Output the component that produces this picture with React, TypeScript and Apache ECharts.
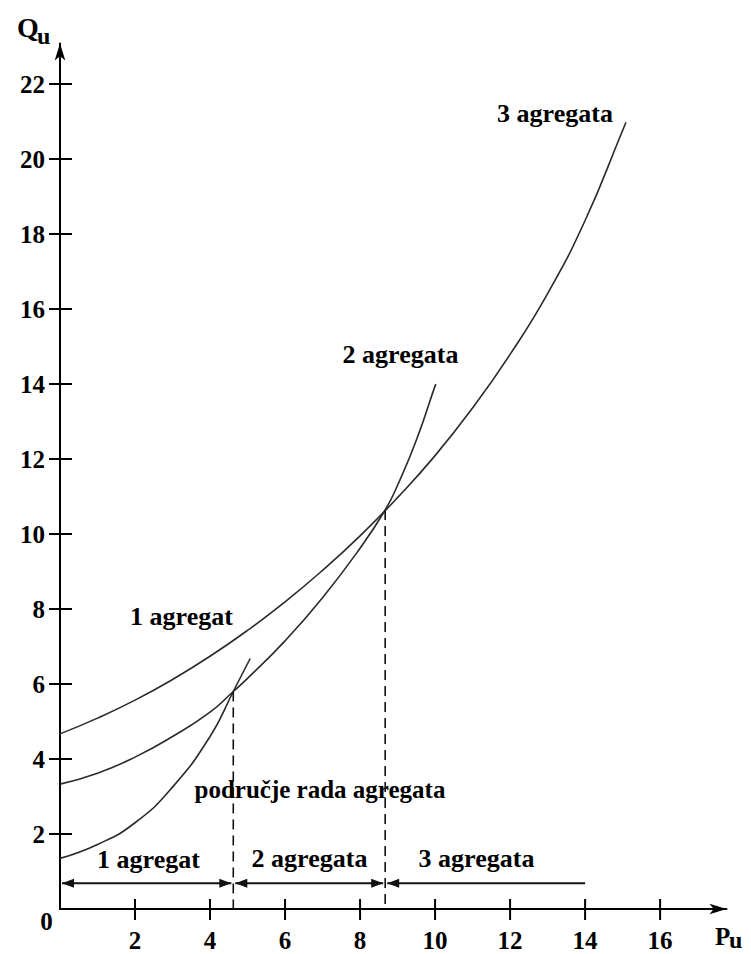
import React, { useEffect, useRef } from "react";
import * as echarts from "echarts";

// ---- data ----
const xTickValues = [2, 4, 6, 8, 10, 12, 14, 16];
const yTickValues = [2, 4, 6, 8, 10, 12, 14, 16, 18, 20, 22];

// curve ending at "3 agregata"
const curve3P = [0, 1, 2, 3, 4, 5, 6, 7, 8, 9, 10, 11, 12, 13, 14, 15, 15.09];
const curve3Q = [4.67, 5.09, 5.57, 6.12, 6.74, 7.43, 8.19, 9.03, 9.95, 10.97, 12.09, 13.36, 14.79, 16.41, 18.36, 20.76, 20.98];

// curve ending at "2 agregata"
const curve2P = [0, 1, 2, 3, 4, 4.62, 5, 6, 7, 8, 8.67, 9, 9.5, 10, 10.02];
const curve2Q = [3.33, 3.62, 4.05, 4.6, 5.25, 5.8, 6.15, 7.15, 8.3, 9.62, 10.64, 11.3, 12.5, 13.95, 14.0];

// lowest curve (1 agregat)
const curve1P = [0, 1, 2, 3, 4, 4.62, 5.07];
const curve1Q = [1.35, 1.72, 2.3, 3.25, 4.6, 5.8, 6.68];

// switching points
const switchP = [4.62, 8.67];
const switchQ = [5.8, 10.64];

// operating ranges: [from, to, level, arrowLeft, arrowRight]
const rangeFrom = [0, 4.62, 8.67];
const rangeTo = [4.62, 8.67, 14];
const rangeLevel = 0.69;
const rangeArrowLeft = [1, 1, 1];
const rangeArrowRight = [1, 1, 0];

const FONT = "'Liberation Serif', 'Times New Roman', serif";
const INK = "#000";
const CURVE = "#2a2a2a";

const zip = (a: number[], b: number[]) => a.map((v, i) => [v, b[i]]);

function buildOption() {
  const labelStyle = {
    fontFamily: FONT,
    fontWeight: "bold" as const,
    fontSize: 25,
    color: INK,
  };
  const txt = (text: string, x: number, y: number, size = 26, align = "center") => ({
    type: "text",
    x,
    y,
    style: {
      text,
      fontFamily: FONT,
      fontWeight: "bold",
      fontSize: size,
      fill: INK,
      align,
      verticalAlign: "middle",
    },
  });

  const curveSeries = (data: number[][]) => ({
    type: "line",
    data,
    smooth: 0.5,
    showSymbol: false,
    symbol: "none",
    lineStyle: { color: CURVE, width: 1.6 },
    silent: true,
  });

  const dashed = switchP.map((p, i) => ({
    type: "line",
    data: [
      [p, switchQ[i]],
      [p, 0],
    ],
    showSymbol: false,
    symbol: "none",
    lineStyle: { color: "#111", width: 1.6, type: [10, 6] },
    silent: true,
  }));

  return {
    animation: false,
    backgroundColor: "#fff",
    grid: { left: 60, right: 24.5, top: 43.5, bottom: 45, containLabel: false },
    xAxis: {
      type: "value",
      min: 0,
      max: 17.77,
      interval: 2,
      axisLine: {
        show: true,
        onZero: false,
        symbol: ["none", "arrow"],
        symbolSize: [8, 17],
        lineStyle: { color: INK, width: 2 },
      },
      axisTick: { show: false },
      splitLine: { show: false },
      axisLabel: {
        ...labelStyle,
        margin: 19,
        formatter: (v: number) => (xTickValues.includes(v) ? String(v) : ""),
      },
    },
    yAxis: {
      type: "value",
      min: 0,
      max: 23.08,
      interval: 2,
      axisLine: {
        show: true,
        onZero: false,
        symbol: ["none", "arrow"],
        symbolSize: [8, 17],
        lineStyle: { color: INK, width: 2 },
      },
      axisTick: { show: false },
      splitLine: { show: false },
      axisLabel: {
        ...labelStyle,
        margin: 15,
        formatter: (v: number) => (yTickValues.includes(v) ? String(v) : ""),
      },
    },
    series: [
      curveSeries(zip(curve3P, curve3Q)),
      curveSeries(zip(curve2P, curve2Q)),
      curveSeries(zip(curve1P, curve1Q)),
      ...dashed,
      {
        type: "custom",
        clip: false,
        silent: true,
        data: rangeFrom.map((f, i) => [f, rangeTo[i], rangeLevel, rangeArrowLeft[i], rangeArrowRight[i]]),
        encode: { x: [0, 1], y: 2 },
        renderItem: (_p: any, api: any) => {
          const a = api.coord([api.value(0), api.value(2)]);
          const b = api.coord([api.value(1), api.value(2)]);
          const la = api.value(3);
          const ra = api.value(4);
          const children: any[] = [
            {
              type: "line",
              shape: { x1: a[0] + (la ? 2 : 0), y1: a[1], x2: b[0] - (ra ? 2 : 0), y2: b[1] },
              style: { stroke: "#111", lineWidth: 2 },
            },
          ];
          if (la) {
            children.push({
              type: "polygon",
              shape: { points: [[a[0] + 2, a[1]], [a[0] + 14, a[1] - 4.5], [a[0] + 14, a[1] + 4.5]] },
              style: { fill: "#111" },
            });
          }
          if (ra) {
            children.push({
              type: "polygon",
              shape: { points: [[b[0] - 2, b[1]], [b[0] - 14, b[1] - 4.5], [b[0] - 14, b[1] + 4.5]] },
              style: { fill: "#111" },
            });
          }
          return { type: "group", children };
        },
      },
      {
        type: "custom",
        clip: false,
        silent: true,
        data: xTickValues.map((v) => [v, 0]),
        encode: { x: 0, y: 1 },
        renderItem: (_p: any, api: any) => {
          const p = api.coord([api.value(0), api.value(1)]);
          return {
            type: "line",
            shape: { x1: p[0], y1: p[1] - 10, x2: p[0], y2: p[1] + 11 },
            style: { stroke: INK, lineWidth: 2 },
          };
        },
      },
      {
        type: "custom",
        clip: false,
        silent: true,
        data: yTickValues.map((v) => [0, v]),
        encode: { x: 0, y: 1 },
        renderItem: (_p: any, api: any) => {
          const p = api.coord([api.value(0), api.value(1)]);
          return {
            type: "line",
            shape: { x1: p[0] - 11, y1: p[1], x2: p[0] + 12, y2: p[1] },
            style: { stroke: INK, lineWidth: 2 },
          };
        },
      },
    ],
    graphic: [
      txt("0", 46.5, 921.5, 25),
      txt("Q", 17, 27.5, 28, "left"),
      txt("u", 37, 36, 24, "left"),
      txt("P", 715, 936.5, 25, "left"),
      txt("u", 729, 940, 24, "left"),
      txt("3 agregata", 555, 113, 26),
      txt("2 agregata", 400.5, 354.5, 26),
      txt("1 agregat", 181.5, 616, 26),
      txt("područje rada agregata", 320, 789, 25),
      txt("1 agregat", 148.5, 859, 26),
      txt("2 agregata", 309.5, 858, 26),
      txt("3 agregata", 476.5, 858, 26),
    ],
  };
}

export default function App() {
  const ref = useRef<HTMLDivElement>(null);
  useEffect(() => {
    if (!ref.current) return;
    const chart = echarts.init(ref.current, null, { renderer: "svg" });
    chart.setOption(buildOption() as any);
    return () => chart.dispose();
  }, []);
  return (
    <div
      ref={ref}
      style={{ position: "fixed", left: 0, top: 0, width: 751, height: 954, background: "#fff" }}
    />
  );
}
